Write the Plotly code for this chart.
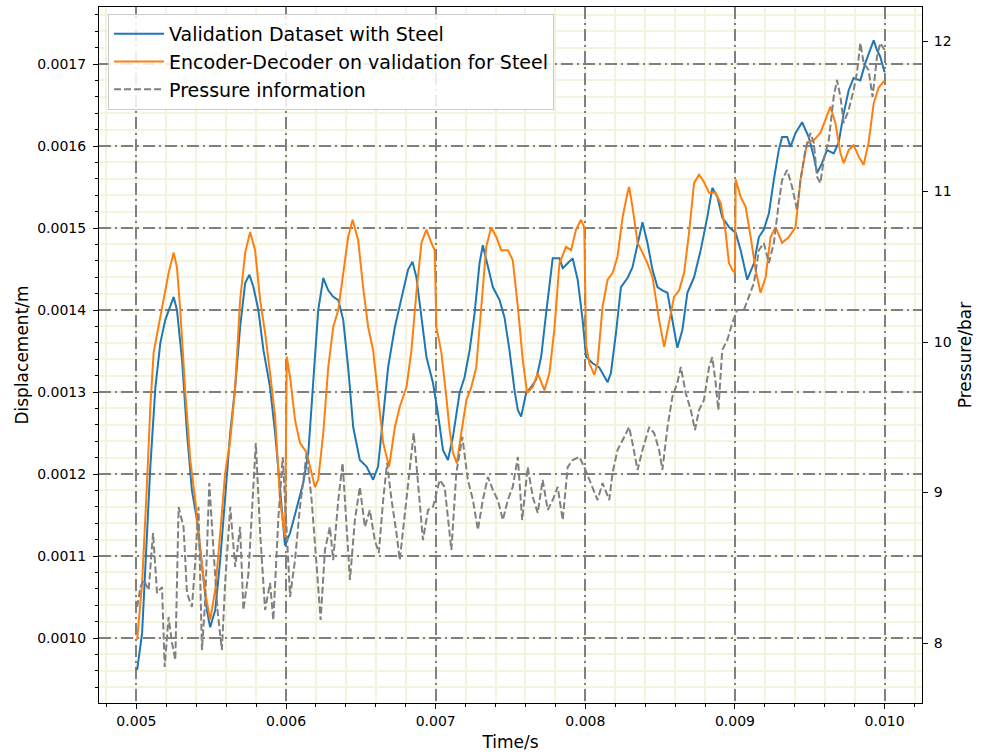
import plotly.graph_objects as go
import numpy as np

# ---------------- data (time in ms, displacement in mm, pressure in bar) ----------------
blue_time_ms = [
    5.005, 5.038, 5.060, 5.093, 5.127, 5.160, 5.193, 5.227, 5.249, 5.271,
    5.305, 5.338, 5.371, 5.405, 5.438, 5.471, 5.493, 5.527, 5.560, 5.593,
    5.627, 5.660, 5.693, 5.727, 5.755, 5.782, 5.815, 5.849, 5.893, 5.927,
    5.960, 5.993, 6.027, 6.071, 6.115, 6.149, 6.182, 6.215, 6.249, 6.282,
    6.315, 6.349, 6.382, 6.415, 6.449, 6.493, 6.538, 6.582, 6.615, 6.649,
    6.682, 6.727, 6.771, 6.815, 6.845, 6.871, 6.905, 6.938, 6.982, 7.015,
    7.049, 7.082, 7.115, 7.160, 7.193, 7.227, 7.260, 7.293, 7.315, 7.349,
    7.382, 7.427, 7.460, 7.493, 7.527, 7.549, 7.571, 7.605, 7.638, 7.671,
    7.705, 7.738, 7.771, 7.782, 7.827, 7.849, 7.882, 7.915, 7.949, 7.982,
    8.005, 8.049, 8.093, 8.127, 8.149, 8.171, 8.205, 8.238, 8.282, 8.315,
    8.349, 8.382, 8.415, 8.449, 8.482, 8.515, 8.549, 8.582, 8.615, 8.649,
    8.682, 8.727, 8.771, 8.815, 8.849, 8.882, 8.915, 8.960, 9.005, 9.038,
    9.082, 9.127, 9.160, 9.193, 9.227, 9.260, 9.293, 9.315, 9.349, 9.371,
    9.405, 9.449, 9.493, 9.527, 9.549, 9.582, 9.615, 9.660, 9.693, 9.727,
    9.760, 9.793, 9.838, 9.871, 9.927, 9.949, 9.971, 10.000,
]
blue_disp_mm = [
    0.961, 1.006, 1.087, 1.209, 1.306, 1.360, 1.388, 1.404, 1.416, 1.400,
    1.339, 1.250, 1.180, 1.144, 1.087, 1.034, 1.013, 1.034, 1.095, 1.177,
    1.250, 1.306, 1.379, 1.433, 1.443, 1.428, 1.400, 1.351, 1.306, 1.250,
    1.177, 1.113, 1.128, 1.160, 1.189, 1.226, 1.311, 1.400, 1.439, 1.424,
    1.416, 1.412, 1.388, 1.330, 1.257, 1.217, 1.209, 1.193, 1.209, 1.270,
    1.330, 1.379, 1.416, 1.449, 1.459, 1.440, 1.391, 1.343, 1.311, 1.274,
    1.229, 1.217, 1.245, 1.299, 1.318, 1.351, 1.396, 1.457, 1.479, 1.452,
    1.428, 1.412, 1.391, 1.351, 1.302, 1.278, 1.270, 1.299, 1.306, 1.315,
    1.343, 1.396, 1.445, 1.463, 1.463, 1.451, 1.457, 1.463, 1.437, 1.388,
    1.343, 1.335, 1.330, 1.318, 1.312, 1.323, 1.372, 1.428, 1.439, 1.452,
    1.482, 1.507, 1.482, 1.449, 1.428, 1.424, 1.421, 1.388, 1.354, 1.376,
    1.421, 1.440, 1.473, 1.513, 1.549, 1.538, 1.513, 1.501, 1.494, 1.473,
    1.437, 1.457, 1.489, 1.498, 1.518, 1.559, 1.595, 1.611, 1.611, 1.599,
    1.616, 1.629, 1.611, 1.587, 1.567, 1.579, 1.595, 1.591, 1.604, 1.640,
    1.668, 1.683, 1.680, 1.701, 1.729, 1.717, 1.709, 1.690,
]

orange_time_ms = [
    5.005, 5.038, 5.071, 5.093, 5.115, 5.149, 5.182, 5.215, 5.249, 5.271,
    5.293, 5.327, 5.360, 5.393, 5.427, 5.460, 5.493, 5.527, 5.560, 5.593,
    5.627, 5.660, 5.693, 5.727, 5.760, 5.793, 5.827, 5.860, 5.893, 5.927,
    5.960, 5.993, 6.005, 6.027, 6.060, 6.093, 6.138, 6.171, 6.193, 6.215,
    6.249, 6.282, 6.315, 6.349, 6.382, 6.415, 6.445, 6.482, 6.515, 6.549,
    6.582, 6.615, 6.649, 6.689, 6.727, 6.760, 6.805, 6.838, 6.871, 6.905,
    6.938, 6.971, 6.993, 7.005, 7.038, 7.071, 7.093, 7.115, 7.142, 7.171,
    7.205, 7.238, 7.271, 7.305, 7.338, 7.371, 7.405, 7.438, 7.482, 7.515,
    7.549, 7.582, 7.611, 7.649, 7.682, 7.727, 7.760, 7.793, 7.827, 7.871,
    7.905, 7.938, 7.971, 7.993, 8.005, 8.027, 8.060, 8.082, 8.115, 8.149,
    8.182, 8.215, 8.249, 8.282, 8.293, 8.315, 8.349, 8.382, 8.415, 8.449,
    8.493, 8.527, 8.560, 8.593, 8.627, 8.660, 8.693, 8.727, 8.760, 8.793,
    8.827, 8.871, 8.905, 8.938, 8.960, 8.982, 9.000, 9.005, 9.038, 9.071,
    9.105, 9.138, 9.171, 9.205, 9.238, 9.271, 9.315, 9.360, 9.405, 9.438,
    9.482, 9.527, 9.571, 9.605, 9.638, 9.671, 9.705, 9.727, 9.760, 9.793,
    9.827, 9.860, 9.893, 9.927, 9.960, 10.000,
]
orange_disp_mm = [
    0.998, 1.067, 1.189, 1.282, 1.348, 1.382, 1.416, 1.445, 1.470, 1.452,
    1.400, 1.299, 1.217, 1.168, 1.107, 1.055, 1.022, 1.059, 1.128, 1.201,
    1.241, 1.306, 1.412, 1.470, 1.495, 1.473, 1.412, 1.372, 1.323, 1.270,
    1.168, 1.123, 1.343, 1.318, 1.266, 1.238, 1.226, 1.201, 1.184, 1.193,
    1.250, 1.330, 1.379, 1.400, 1.445, 1.489, 1.510, 1.485, 1.428, 1.379,
    1.351, 1.294, 1.238, 1.209, 1.257, 1.282, 1.306, 1.351, 1.421, 1.482,
    1.498, 1.482, 1.473, 1.379, 1.348, 1.294, 1.254, 1.226, 1.213, 1.250,
    1.290, 1.306, 1.330, 1.404, 1.477, 1.501, 1.489, 1.473, 1.473, 1.461,
    1.404, 1.339, 1.299, 1.306, 1.323, 1.302, 1.323, 1.376, 1.457, 1.477,
    1.473, 1.498, 1.510, 1.501, 1.357, 1.335, 1.321, 1.335, 1.404, 1.437,
    1.445, 1.465, 1.513, 1.543, 1.550, 1.526, 1.482, 1.470, 1.457, 1.440,
    1.388, 1.355, 1.384, 1.416, 1.424, 1.445, 1.494, 1.555, 1.565, 1.556,
    1.543, 1.543, 1.530, 1.494, 1.457, 1.449, 1.445, 1.559, 1.538, 1.526,
    1.489, 1.449, 1.421, 1.440, 1.489, 1.501, 1.482, 1.489, 1.501, 1.559,
    1.604, 1.607, 1.616, 1.632, 1.648, 1.628, 1.591, 1.579, 1.595, 1.601,
    1.587, 1.577, 1.604, 1.652, 1.671, 1.680,
]

pressure_time_ms = [
    5.005, 5.027, 5.049, 5.082, 5.111, 5.138, 5.171, 5.189, 5.215, 5.238,
    5.260, 5.282, 5.315, 5.338, 5.371, 5.393, 5.415, 5.438, 5.460, 5.487,
    5.515, 5.542, 5.571, 5.593, 5.627, 5.660, 5.693, 5.715, 5.749, 5.798,
    5.827, 5.860, 5.893, 5.915, 5.949, 5.978, 6.005, 6.027, 6.060, 6.093,
    6.138, 6.171, 6.205, 6.231, 6.260, 6.293, 6.315, 6.349, 6.378, 6.405,
    6.427, 6.460, 6.493, 6.527, 6.560, 6.593, 6.620, 6.649, 6.675, 6.705,
    6.738, 6.760, 6.793, 6.827, 6.853, 6.882, 6.915, 6.949, 6.982, 7.027,
    7.060, 7.105, 7.138, 7.178, 7.215, 7.249, 7.282, 7.315, 7.349, 7.382,
    7.415, 7.449, 7.482, 7.515, 7.549, 7.578, 7.615, 7.649, 7.682, 7.715,
    7.749, 7.782, 7.815, 7.849, 7.882, 7.915, 7.960, 7.993, 8.038, 8.082,
    8.115, 8.160, 8.182, 8.215, 8.260, 8.293, 8.315, 8.349, 8.382, 8.427,
    8.460, 8.493, 8.515, 8.549, 8.582, 8.615, 8.638, 8.671, 8.705, 8.733,
    8.760, 8.793, 8.827, 8.849, 8.871, 8.889, 8.915, 8.949, 8.982, 9.015,
    9.060, 9.093, 9.127, 9.160, 9.193, 9.227, 9.260, 9.293, 9.315, 9.349,
    9.382, 9.415, 9.438, 9.471, 9.505, 9.527, 9.549, 9.571, 9.593, 9.627,
    9.660, 9.682, 9.705, 9.727, 9.760, 9.793, 9.815, 9.838, 9.860, 9.893,
    9.920, 9.949, 9.971, 10.000,
]
pressure_bar = [
    8.239, 8.372, 8.419, 8.352, 8.731, 8.332, 8.372, 7.841, 8.173, 8.000,
    7.887, 8.904, 8.771, 8.332, 8.239, 8.532, 8.904, 7.953, 8.286, 9.063,
    8.618, 8.219, 7.953, 8.399, 8.904, 8.505, 8.771, 8.219, 8.465, 9.329,
    8.731, 8.219, 8.399, 8.153, 8.837, 9.236, 8.731, 8.306, 8.551, 8.904,
    9.262, 8.950, 8.505, 8.153, 8.618, 8.771, 8.551, 8.950, 9.196, 8.731,
    8.419, 8.817, 9.037, 8.771, 8.884, 8.684, 8.598, 8.950, 9.196, 8.950,
    8.731, 8.551, 8.837, 9.169, 9.395, 9.063, 8.684, 8.884, 8.904, 9.083,
    9.037, 8.618, 9.130, 9.369, 9.083, 8.950, 8.751, 8.950, 9.103, 9.017,
    8.950, 8.817, 8.950, 9.037, 9.236, 8.817, 9.169, 8.970, 8.864, 9.083,
    8.884, 8.950, 9.037, 8.817, 9.169, 9.216, 9.236, 9.169, 9.063, 8.950,
    9.063, 8.950, 9.130, 9.282, 9.369, 9.435, 9.329, 9.150, 9.282, 9.435,
    9.395, 9.282, 9.150, 9.435, 9.635, 9.728, 9.834, 9.661, 9.548, 9.415,
    9.548, 9.615, 9.834, 9.900, 9.728, 9.548, 9.947, 10.013, 10.126, 10.213,
    10.213, 10.299, 10.392, 10.611, 10.658, 10.525, 10.658, 10.924, 11.076, 11.143,
    11.030, 10.877, 11.076, 11.276, 11.389, 11.322, 11.096, 11.056, 11.209, 11.342,
    11.628, 11.741, 11.628, 11.455, 11.542, 11.674, 11.787, 11.987, 11.854, 11.807,
    11.628, 11.894, 11.987, 11.940,
]

x_tick_vals = [0.005, 0.006, 0.007, 0.008, 0.009, 0.010]
x_tick_text = ["0.005", "0.006", "0.007", "0.008", "0.009", "0.010"]
y_tick_vals = [0.0010, 0.0011, 0.0012, 0.0013, 0.0014, 0.0015, 0.0016, 0.0017]
y_tick_text = ["0.0010", "0.0011", "0.0012", "0.0013", "0.0014", "0.0015", "0.0016", "0.0017"]
y2_tick_vals = [8, 9, 10, 11, 12]
y2_tick_text = ["8", "9", "10", "11", "12"]

series_names = [
    "Validation Dataset with Steel",
    "Encoder-Decoder on validation for Steel",
    "Pressure information",
]

# ---------------- figure ----------------
FONT = "DejaVu Sans"
fig = go.Figure()

fig.add_trace(go.Scatter(
    x=np.array(blue_time_ms) * 1e-3, y=np.array(blue_disp_mm) * 1e-3,
    mode="lines", name=series_names[0],
    line=dict(color="#1f77b4", width=2),
))
fig.add_trace(go.Scatter(
    x=np.array(orange_time_ms) * 1e-3, y=np.array(orange_disp_mm) * 1e-3,
    mode="lines", name=series_names[1],
    line=dict(color="#ff7f0e", width=2),
))
fig.add_trace(go.Scatter(
    x=np.array(pressure_time_ms) * 1e-3, y=pressure_bar,
    mode="lines", name=series_names[2], yaxis="y2",
    line=dict(color="#808080", width=2, dash="7px,3px"),
))

grid_major = dict(showgrid=True, gridcolor="#808080", gridwidth=2, griddash="12px,4px,2px,4px")
minor_grid = dict(showgrid=True, gridcolor="#f5f3dc", gridwidth=1.5, griddash="solid",
                  ticks="outside", ticklen=3, tickwidth=1, tickcolor="black")

fig.update_layout(
    width=988, height=754,
    margin=dict(l=99, r=66, t=7, b=51, autoexpand=False),
    paper_bgcolor="white", plot_bgcolor="white",
    font=dict(family=FONT, size=14, color="black"),
    showlegend=True,
    legend=dict(
        x=0.011, y=0.99, xanchor="left", yanchor="top",
        bgcolor="rgba(255,255,255,0.85)", bordercolor="#cccccc", borderwidth=1,
        font=dict(family=FONT, size=19, color="black"),
        itemwidth=50,
    ),
    xaxis=dict(
        range=[0.00475, 0.01025],
        tickmode="array", tickvals=x_tick_vals, ticktext=x_tick_text,
        ticks="outside", ticklen=5, tickwidth=1, tickcolor="black",
        tickfont=dict(family=FONT, size=14),
        showline=True, linecolor="black", linewidth=1, mirror=True,
        zeroline=False,
        title=dict(text="Time/s", font=dict(family=FONT, size=17), standoff=8),
        minor=dict(dtick=0.0002, tick0=0.005, **minor_grid),
        **grid_major,
    ),
    yaxis=dict(
        range=[0.00092073, 0.00176951],
        tickmode="array", tickvals=y_tick_vals, ticktext=y_tick_text,
        ticks="outside", ticklen=5, tickwidth=1, tickcolor="black",
        ticklabelstandoff=4,
        tickfont=dict(family=FONT, size=14),
        showline=True, linecolor="black", linewidth=1,
        zeroline=False,
        title=dict(text="Displacement/m", font=dict(family=FONT, size=17), standoff=4),
        minor=dict(dtick=0.00002, tick0=0.001, **minor_grid),
        **grid_major,
    ),
    yaxis2=dict(
        overlaying="y", side="right",
        range=[7.6013, 12.2259],
        tickmode="array", tickvals=y2_tick_vals, ticktext=y2_tick_text,
        ticks="outside", ticklen=5, tickwidth=1, tickcolor="black",
        ticklabelstandoff=3,
        tickfont=dict(family=FONT, size=14),
        showline=True, linecolor="black", linewidth=1,
        showgrid=False, zeroline=False,
        title=dict(text="Pressure/bar", font=dict(family=FONT, size=17), standoff=8),
    ),
)

fig.write_html("out.html")
